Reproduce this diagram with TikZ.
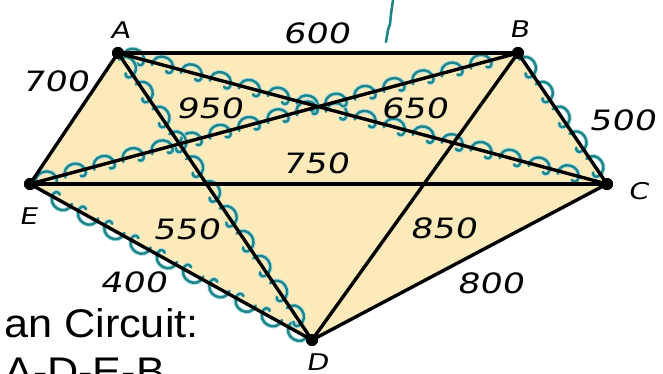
\documentclass[tikz,border=0pt]{standalone}
\usepackage{fontspec}
\setmainfont{Liberation Sans}
\newfontfamily\lab{DejaVu Sans}[FakeSlant=0.18,FakeStretch=1.25]
\usetikzlibrary{decorations.markings}
\definecolor{fillc}{RGB}{253,234,186}
\definecolor{tealc}{RGB}{32,132,132}
\definecolor{haloc}{RGB}{165,222,236}
\begin{document}
\begin{tikzpicture}[x=1bp,y=-1bp,
  vtx/.style={circle,fill=black,inner sep=0pt,minimum size=12bp},
  edgeline/.style={line width=3.4bp,black},
  lbl/.style={font=\lab\fontsize{28bp}{28bp}\selectfont,inner sep=0pt},
  vlbl/.style={font=\lab\fontsize{23bp}{23bp}\selectfont,inner sep=0pt},
  bumpshape/.style={insert path={(-12bp,-3bp) .. controls (-14bp,12bp) and (10bp,12bp) .. (9bp,-3bp) .. controls (8.5bp,-6.5bp) and (5bp,-7bp) .. (3bp,-5bp)}},
  scal/.style={postaction={decorate,decoration={markings,
     mark=between positions 18bp and -12bp step 30bp with {
       \draw[haloc,line width=4.2bp] [bumpshape];
       \draw[tealc,line width=2.4bp,line cap=round] [bumpshape];
     }}}},
  bigtext/.style={font=\fontsize{40bp}{40bp}\selectfont,inner sep=0pt,anchor=base west,xscale=1.08}
 ]
\useasboundingbox (0,0) rectangle (663,373);
\clip (0,0) rectangle (663,373);

\node[vtx] (A) at (118,53) {};
\node[vtx] (B) at (518,53) {};
\node[vtx] (C) at (607,184) {};
\node[vtx] (D) at (312,340) {};
\node[vtx] (E) at (30,184) {};

\fill[fillc] (A.center) -- (B.center) -- (C.center) -- (D.center) -- (E.center) -- cycle;

% Hamiltonian circuit scallops
\foreach \s/\t in {A/C, B/C, E/B, D/E, A/D}{
  \path[scal] (\s.center) -- (\t.center);
}

% edges
\foreach \s/\t in {A/B, A/C, A/D, A/E, B/C, B/D, B/E, C/D, C/E, D/E}{
  \draw[edgeline] (\s.center) -- (\t.center);
}
\foreach \v in {A,B,C,D,E}{ \node[vtx] at (\v) {}; }

% stray pen stroke
\draw[tealc, line width=2.6bp, line cap=round] (386,42) -- (388,30) -- (390,24) -- (391,14) -- (393,0);

% weights
\node[lbl] (w600) at (316,33) {600};
\node[lbl] (w700) at (55,81) {700};
\node[lbl] (w950) at (209,108) {950};
\node[lbl] (w650) at (414,108) {650};
\node[lbl] (w500) at (622,120) {500};
\node[lbl] (w750) at (315,163) {750};
\node[lbl] (w550) at (186,229) {550};
\node[lbl] (w850) at (443,228) {850};
\node[lbl] (w400) at (133,282) {400};
\node[lbl] (w800) at (490,283) {800};

% vertex names
\node[vlbl] (lA) at (120,30) {A};
\node[vlbl] (lB) at (519,29) {B};
\node[vlbl] (lC) at (638,191) {C};
\node[vlbl] (lE) at (28,216) {E};
\node[vlbl] (lD) at (317,362) {D};

% caption text
\node[bigtext] (t1) at (4,337) {an Circuit:};
\node[bigtext] (t2) at (4,385) {A-D-E-B};
\end{tikzpicture}
\end{document}
